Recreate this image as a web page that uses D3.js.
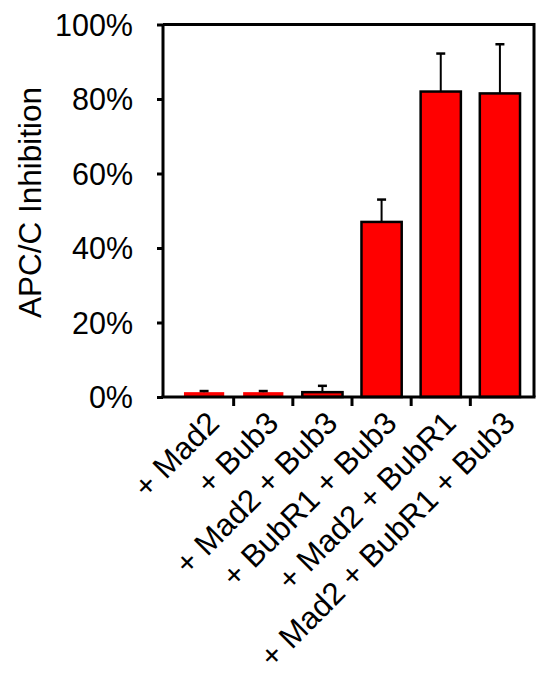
<!DOCTYPE html>
<html>
<head>
<meta charset="utf-8">
<script src="https://cdn.jsdelivr.net/npm/d3@7"></script>
<style>
  body { margin: 0; background: #fff; }
  text { font-family: Arial, "Liberation Sans", sans-serif; fill: #000; }
</style>
</head>
<body>
<svg id="chart" width="537" height="673"></svg>
<script>
// chart values
const categories = ["+ Mad2", "+ Bub3", "+ Mad2 + Bub3", "+ BubR1 + Bub3", "+ Mad2 + BubR1", "+ Mad2 + BubR1 + Bub3"];
const values = [1.3, 1.3, 1.3, 47, 82, 81.5];
const errors = [0.3, 0.3, 1.7, 6, 10.2, 13.2];
const outlined = [false, false, true, true, true, true];
const yTicks = [0, 20, 40, 60, 80, 100];

const svg = d3.select("#chart");
const frame = { left: 163, right: 534, top: 24.5, bottom: 397 };

const y = d3.scaleLinear().domain([0, 100]).range([frame.bottom, frame.top]);
const x = d3.scaleBand()
  .domain(categories)
  .range([174.5, 529.5])
  .paddingInner(0.32)
  .paddingOuter(0.16);
const step = x.step();

// bars
svg.selectAll(".bar")
  .data(categories)
  .enter()
  .append("rect")
  .attr("class", "bar")
  .attr("x", d => x(d))
  .attr("width", x.bandwidth())
  .attr("y", (d, i) => y(values[i]))
  .attr("height", (d, i) => y(0) - y(values[i]))
  .style("fill", "#ff0000")
  .style("stroke", (d, i) => outlined[i] ? "#000" : "none")
  .style("stroke-width", 2.5);

// error bars (upper only)
const err = svg.append("g").attr("class", "errors");
categories.forEach((c, i) => {
  const cx = x(c) + x.bandwidth() / 2;
  err.append("line")
    .attr("x1", cx).attr("x2", cx)
    .attr("y1", y(values[i])).attr("y2", y(values[i] + errors[i]))
    .style("stroke", "#000").style("stroke-width", 2);
  err.append("line")
    .attr("x1", cx - 4.5).attr("x2", cx + 4.5)
    .attr("y1", y(values[i] + errors[i])).attr("y2", y(values[i] + errors[i]))
    .style("stroke", "#000").style("stroke-width", 2.5);
});

// frame: top and right edges
svg.append("path")
  .attr("d", `M${frame.left},${frame.top}H${frame.right}V${frame.bottom}`)
  .style("fill", "none")
  .style("stroke", "#000")
  .style("stroke-width", 3);

// y axis
const yAxis = svg.append("g")
  .attr("transform", `translate(${frame.left},0)`)
  .call(d3.axisLeft(y).tickValues(yTicks).tickSize(6).tickPadding(24).tickFormat(d => d + "%"));
yAxis.select(".domain").attr("d", `M0,${frame.top}V${frame.bottom}`).style("stroke-width", 3);
yAxis.selectAll(".tick line").style("stroke-width", 3);
yAxis.selectAll(".tick text")
  .style("font-size", "30.5px")
  .style("font-family", "Arial, 'Liberation Sans', sans-serif")
  .attr("dy", "0.36em");

// x axis: ticks between categories
const xAxis = svg.append("g").attr("class", "x-axis");
xAxis.append("line")
  .attr("x1", frame.left - 1.5).attr("x2", frame.right + 1.5)
  .attr("y1", frame.bottom).attr("y2", frame.bottom)
  .style("stroke", "#000").style("stroke-width", 3);
xAxis.selectAll(".sep")
  .data(categories.slice(1))
  .enter()
  .append("line")
  .attr("class", "sep")
  .attr("x1", d => x(d) - step * x.paddingInner() / 2)
  .attr("x2", d => x(d) - step * x.paddingInner() / 2)
  .attr("y1", frame.bottom)
  .attr("y2", frame.bottom + 9)
  .style("stroke", "#000").style("stroke-width", 3);

// x labels, rotated
xAxis.selectAll(".xlabel")
  .data(categories)
  .enter()
  .append("text")
  .attr("class", "xlabel")
  .attr("transform", d => `translate(${x(d) + x.bandwidth() / 2 + 17},${frame.bottom + 28}) rotate(-45)`)
  .style("text-anchor", "end")
  .style("font-size", "31.3px")
  .text(d => d);

// y title
svg.append("text")
  .attr("transform", `translate(41,202.5) rotate(-90)`)
  .style("text-anchor", "middle")
  .style("font-size", "31.5px")
  .text("APC/C Inhibition");
</script>
</body>
</html>
